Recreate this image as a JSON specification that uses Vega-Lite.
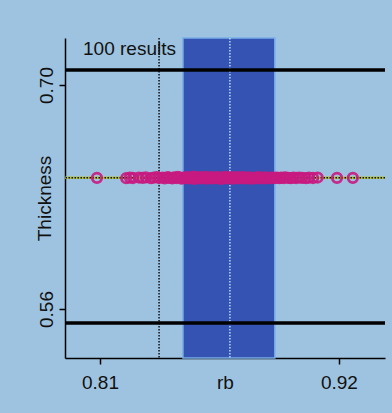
{
  "$schema": "https://vega.github.io/schema/vega-lite/v6.json",
  "width": 320,
  "height": 320,
  "autosize": "none",
  "padding": {"left": 65, "top": 38, "right": 7, "bottom": 55},
  "background": "#9ec3e0",
  "config": {
    "view": {"stroke": null, "fill": "#9ec3e0"},
    "font": "Liberation Sans",
    "axis": {"grid": false, "domainColor": "#000000", "domainWidth": 1.5, "tickColor": "#000000", "tickWidth": 1.5, "tickSize": 6, "labelColor": "#111111", "titleColor": "#111111", "labelFontSize": 19, "titleFontSize": 19, "titleFontWeight": "normal", "labelFont": "Liberation Sans", "titleFont": "Liberation Sans"}
  },
  "datasets": {
    "points": [
      {"x": 0.8086, "y": 0.6420}, {"x": 0.8221, "y": 0.6418}, {"x": 0.8238, "y": 0.6421}, {"x": 0.8252, "y": 0.6419},
      {"x": 0.8279, "y": 0.6422}, {"x": 0.8296, "y": 0.6420}, {"x": 0.8311, "y": 0.6423}, {"x": 0.8334, "y": 0.6418},
      {"x": 0.8347, "y": 0.6421}, {"x": 0.8361, "y": 0.6424}, {"x": 0.8372, "y": 0.6419}, {"x": 0.8389, "y": 0.6422},
      {"x": 0.8398, "y": 0.6417}, {"x": 0.8412, "y": 0.6425}, {"x": 0.8419, "y": 0.6420}, {"x": 0.8433, "y": 0.6416},
      {"x": 0.8441, "y": 0.6423}, {"x": 0.8452, "y": 0.6419}, {"x": 0.8458, "y": 0.6426}, {"x": 0.8467, "y": 0.6421},
      {"x": 0.8475, "y": 0.6415}, {"x": 0.8483, "y": 0.6422}, {"x": 0.8488, "y": 0.6418}, {"x": 0.8497, "y": 0.6425},
      {"x": 0.8503, "y": 0.6420}, {"x": 0.8511, "y": 0.6416}, {"x": 0.8516, "y": 0.6423}, {"x": 0.8524, "y": 0.6419},
      {"x": 0.8531, "y": 0.6427}, {"x": 0.8535, "y": 0.6414}, {"x": 0.8544, "y": 0.6421}, {"x": 0.8549, "y": 0.6418},
      {"x": 0.8556, "y": 0.6424}, {"x": 0.8562, "y": 0.6417}, {"x": 0.8570, "y": 0.6422}, {"x": 0.8577, "y": 0.6419},
      {"x": 0.8583, "y": 0.6426}, {"x": 0.8591, "y": 0.6415}, {"x": 0.8597, "y": 0.6421}, {"x": 0.8604, "y": 0.6418},
      {"x": 0.8611, "y": 0.6424}, {"x": 0.8618, "y": 0.6416}, {"x": 0.8622, "y": 0.6422}, {"x": 0.8630, "y": 0.6419},
      {"x": 0.8637, "y": 0.6425}, {"x": 0.8645, "y": 0.6417}, {"x": 0.8650, "y": 0.6421}, {"x": 0.8658, "y": 0.6414},
      {"x": 0.8663, "y": 0.6423}, {"x": 0.8671, "y": 0.6419}, {"x": 0.8677, "y": 0.6426}, {"x": 0.8684, "y": 0.6416},
      {"x": 0.8692, "y": 0.6422}, {"x": 0.8698, "y": 0.6418}, {"x": 0.8705, "y": 0.6424}, {"x": 0.8709, "y": 0.6415},
      {"x": 0.8717, "y": 0.6421}, {"x": 0.8724, "y": 0.6418}, {"x": 0.8731, "y": 0.6425}, {"x": 0.8738, "y": 0.6417},
      {"x": 0.8744, "y": 0.6422}, {"x": 0.8750, "y": 0.6419}, {"x": 0.8759, "y": 0.6424}, {"x": 0.8765, "y": 0.6416},
      {"x": 0.8771, "y": 0.6421}, {"x": 0.8779, "y": 0.6418}, {"x": 0.8786, "y": 0.6423}, {"x": 0.8793, "y": 0.6415},
      {"x": 0.8799, "y": 0.6420}, {"x": 0.8808, "y": 0.6417}, {"x": 0.8814, "y": 0.6422}, {"x": 0.8821, "y": 0.6419},
      {"x": 0.8829, "y": 0.6424}, {"x": 0.8836, "y": 0.6416}, {"x": 0.8843, "y": 0.6421}, {"x": 0.8851, "y": 0.6418},
      {"x": 0.8860, "y": 0.6423}, {"x": 0.8866, "y": 0.6417}, {"x": 0.8874, "y": 0.6420}, {"x": 0.8883, "y": 0.6422},
      {"x": 0.8891, "y": 0.6418}, {"x": 0.8897, "y": 0.6421}, {"x": 0.8906, "y": 0.6419}, {"x": 0.8915, "y": 0.6422},
      {"x": 0.8926, "y": 0.6418}, {"x": 0.8934, "y": 0.6421}, {"x": 0.8945, "y": 0.6419}, {"x": 0.8953, "y": 0.6423},
      {"x": 0.8966, "y": 0.6420}, {"x": 0.8978, "y": 0.6418}, {"x": 0.8990, "y": 0.6421}, {"x": 0.9003, "y": 0.6419},
      {"x": 0.9017, "y": 0.6422}, {"x": 0.9031, "y": 0.6420}, {"x": 0.9048, "y": 0.6418}, {"x": 0.9062, "y": 0.6421},
      {"x": 0.9081, "y": 0.6419}, {"x": 0.9102, "y": 0.6422}, {"x": 0.9191, "y": 0.6420}, {"x": 0.9264, "y": 0.6420}
    ]
  },
  "layer": [
    {
      "data": {"values": [{"x": 0.8482, "x2": 0.8905}]},
      "mark": {"type": "rect", "color": "#3553b2", "stroke": "#78aee8", "strokeWidth": 1.5},
      "encoding": {
        "x": {
          "field": "x", "type": "quantitative",
          "scale": {"domain": [0.7939, 0.9412], "nice": false, "zero": false},
          "axis": {"values": [0.81, 0.92], "format": ".2f", "labelPadding": 24, "labelBaseline": "alphabetic", "title": "rb", "titleBaseline": "alphabetic", "titleY": 30, "titlePadding": 0}
        },
        "x2": {"field": "x2"}
      }
    },
    {
      "data": {"values": [{"x": 0.8372}]},
      "mark": {"type": "rule", "color": "#111111", "strokeWidth": 1.5, "strokeDash": [1.5, 1.5]},
      "encoding": {"x": {"field": "x", "type": "quantitative"}}
    },
    {
      "data": {"values": [{"x": 0.8698}]},
      "mark": {"type": "rule", "color": "#b8d8f8", "strokeWidth": 1.5, "strokeDash": [1.5, 1.5]},
      "encoding": {"x": {"field": "x", "type": "quantitative"}}
    },
    {
      "data": {"values": [{"y": 0.7094}, {"y": 0.5513}]},
      "mark": {"type": "rule", "color": "#000000", "strokeWidth": 3.5},
      "encoding": {
        "y": {
          "field": "y", "type": "quantitative",
          "scale": {"domain": [0.5294, 0.7294], "nice": false, "zero": false},
          "axis": {"values": [0.56, 0.70], "format": ".2f", "labelAngle": -90, "labelAlign": "center", "labelBaseline": "alphabetic", "labelPadding": 7, "title": "Thickness", "titleAngle": -90, "titleAlign": "center", "titleBaseline": "alphabetic", "titleX": -15, "titleY": 160}
        }
      }
    },
    {
      "data": {"values": [{"y": 0.6420}]},
      "mark": {"type": "rule", "color": "#b0c040", "strokeWidth": 2.5},
      "encoding": {"y": {"field": "y", "type": "quantitative"}}
    },
    {
      "data": {"values": [{"y": 0.6420}]},
      "mark": {"type": "rule", "color": "#111111", "strokeWidth": 1.5, "strokeDash": [1.5, 1.5]},
      "encoding": {"y": {"field": "y", "type": "quantitative"}}
    },
    {
      "data": {"name": "points"},
      "mark": {"type": "point", "shape": "circle", "filled": false, "stroke": "#c81a80", "strokeWidth": 2.8, "size": 90, "opacity": 0.9},
      "encoding": {
        "x": {"field": "x", "type": "quantitative"},
        "y": {"field": "y", "type": "quantitative"}
      }
    },
    {
      "data": {"values": [{"x": 0.8022, "y": 0.7188, "label": "100 results"}]},
      "mark": {"type": "text", "align": "left", "baseline": "alphabetic", "fontSize": 19, "font": "Liberation Sans", "color": "#111111"},
      "encoding": {
        "x": {"field": "x", "type": "quantitative"},
        "y": {"field": "y", "type": "quantitative"},
        "text": {"field": "label"}
      }
    }
  ]
}
